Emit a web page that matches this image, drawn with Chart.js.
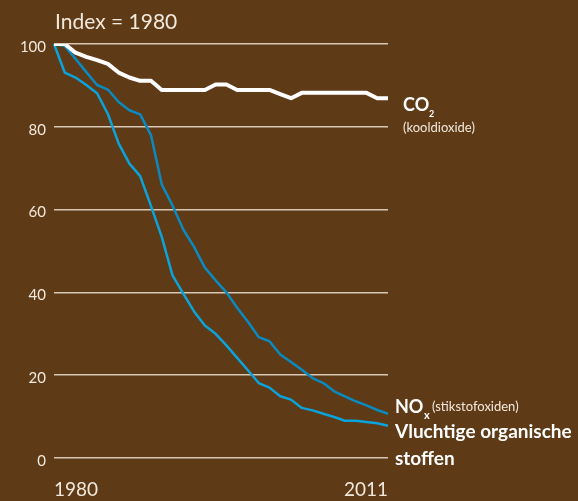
<!DOCTYPE html>
<html>
<head>
<meta charset="utf-8">
<style>
  html, body { margin: 0; padding: 0; background: #5e3a16; }
  #wrap { width: 578px; height: 501px; position: relative; }
</style>
</head>
<body>
<div id="wrap">
  <canvas id="myChart"></canvas>
</div>
<script src="https://cdn.jsdelivr.net/npm/chart.js"></script>
<script>

// index, 1980 = 100
const years = [];
for (let y = 1980; y <= 2011; y++) years.push(String(y));

const co2 = [100, 100, 97.9, 96.9, 96.1, 95.2, 93.1, 91.9, 91.1, 91.1,
  88.9, 88.9, 88.9, 88.9, 88.9, 90.2, 90.2, 88.9, 88.9, 88.9,
  88.9, 87.9, 86.9, 88.2, 88.2, 88.2, 88.2, 88.2, 88.2, 88.2,
  86.9, 86.9];

const nox = [100, 99.5, 96.4, 93.2, 90.1, 89.0, 86.0, 84.0, 83.0, 78.0,
  66.1, 61.0, 55.2, 51.0, 46.0, 42.9, 40.0, 36.3, 32.9, 29.2,
  28.2, 25.0, 23.2, 21.3, 19.3, 18.1, 16.1, 14.9, 13.7, 12.7,
  11.6, 10.7];

const voc = [100, 93.1, 91.9, 90.1, 88.1, 83.1, 76.0, 71.1, 68.1, 60.9,
  53.4, 44.1, 39.7, 35.4, 32.0, 30.0, 27.2, 24.2, 21.2, 18.1,
  17.0, 14.9, 14.1, 12.1, 11.5, 10.7, 9.9, 9.0, 9.0, 8.7,
  8.4, 7.8];

const yTicks = [0, 20, 40, 60, 80, 100];

const cream = '#f2e9dd';

// labels next to the line ends + header
const labelsPlugin = {
  id: 'endLabels',
  afterDraw(chart) {
    const ctx = chart.ctx;
    ctx.save();
    ctx.textBaseline = 'alphabetic';
    ctx.textAlign = 'left';

    ctx.fillStyle = cream;
    ctx.font = '21px Lato';
    ctx.fillText('Index = 1980', 55, 29);

    ctx.fillStyle = '#ffffff';
    ctx.font = 'bold 18px Lato';
    ctx.fillText('CO', 403, 111);
    ctx.font = 'bold 9px Lato';
    ctx.fillText('2', 429, 117);
    ctx.fillStyle = cream;
    ctx.font = '13px Lato';
    ctx.fillText('(kooldioxide)', 403, 132);

    ctx.fillStyle = '#ffffff';
    ctx.font = 'bold 18px Lato';
    ctx.fillText('NO', 395, 413);
    ctx.font = 'bold 11px Lato';
    ctx.fillText('x', 424, 419);
    ctx.fillStyle = cream;
    ctx.font = '13px Lato';
    ctx.fillText('(stikstofoxiden)', 432, 411);

    ctx.fillStyle = '#ffffff';
    ctx.font = 'bold 19px Lato';
    ctx.fillText('Vluchtige organische', 395, 438);
    ctx.fillText('stoffen', 395, 465);
    ctx.restore();
  }
};

const data = {
  labels: years,
  datasets: [
    { label: 'CO2', data: co2, borderColor: '#ffffff', borderWidth: 4 },
    { label: 'NOx', data: nox, borderColor: '#0a8ac0', borderWidth: 2.5 },
    { label: 'Vluchtige organische stoffen', data: voc, borderColor: '#0aa3db', borderWidth: 2.5 }
  ]
};

const config = {
  type: 'line',
  data: data,
  options: {
    responsive: true,
    maintainAspectRatio: false,
    animation: false,
    layout: { padding: { left: 0, right: 190, top: 44, bottom: 0 } },
    elements: {
      point: { radius: 0 },
      line: { tension: 0, borderJoinStyle: 'round', borderCapStyle: 'butt' }
    },
    plugins: {
      legend: { display: false },
      tooltip: { enabled: false }
    },
    scales: {
      x: {
        offset: false,
        grid: { display: false, drawTicks: false },
        border: { display: false },
        afterFit(scale) { scale.height = 43; },
        ticks: {
          autoSkip: false,
          maxRotation: 0,
          align: 'inner',
          padding: 20,
          color: cream,
          font: { family: 'Lato', size: 19 },
          callback(val, i) {
            return (i === 0 || i === years.length - 1) ? years[i] : '';
          }
        }
      },
      y: {
        min: 0,
        max: 100,
        afterFit(scale) { scale.width = 54; },
        afterBuildTicks(scale) { scale.ticks = yTicks.map(v => ({ value: v })); },
        grid: { color: 'rgba(236,224,210,0.85)', lineWidth: 1.5, drawTicks: false },
        border: { display: false },
        ticks: {
          padding: 8,
          labelOffset: 3,
          color: cream,
          font: { family: 'Lato', size: 15 }
        }
      }
    }
  },
  plugins: [labelsPlugin]
};

var chart = new Chart('myChart', config);

</script>
</body>
</html>
